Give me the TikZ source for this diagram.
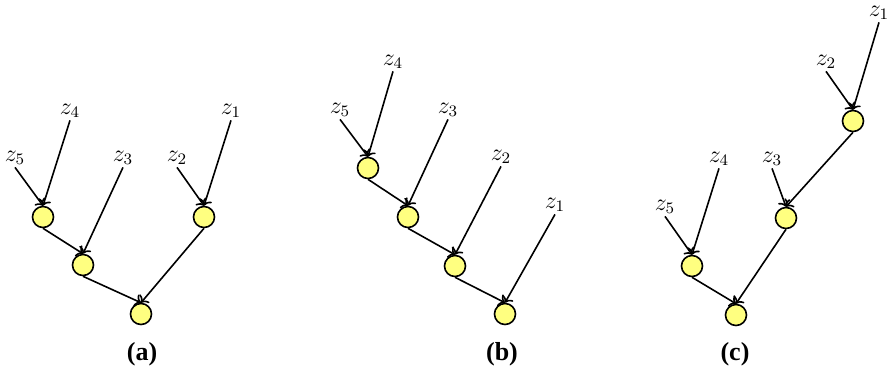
\documentclass[tikz,border=0pt]{standalone}
\usepackage{fontspec}
\usetikzlibrary{arrows.meta}
\newfontfamily\capfont{Liberation Serif}
\begin{document}
\begin{tikzpicture}[x=0.5pt,y=-0.5pt,
  vert/.style={circle,draw=black,line width=0.8pt,fill={rgb,255:red,255;green,255;blue,128},minimum size=10.5pt,inner sep=0pt},
  lab/.style={inner sep=1pt,font=\fontsize{11.5}{13}\selectfont},
  conn/.style={-{To[length=3pt,width=6.5pt]},line width=0.8pt},
  captext/.style={font=\capfont\bfseries\fontsize{13}{14}\selectfont}]
\useasboundingbox (0,0) rectangle (889,372);
% panel (a)
\node[vert] (a1) at (43,217) {};
\node[vert] (a2) at (83,265) {};
\node[vert] (a3) at (141,314) {};
\node[vert] (a4) at (204,217) {};
\node[lab] (a5l) at (15,158) {$z_5$};
\node[lab] (a4l) at (70,111) {$z_4$};
\node[lab] (a3l) at (123,158) {$z_3$};
\node[lab] (a2l) at (177,158) {$z_2$};
\node[lab] (a1l) at (231,111) {$z_1$};
\draw[conn] (a5l.south) -- (a1.north);
\draw[conn] (a4l.south) -- (a1.north);
\draw[conn] (a1.south) -- (a2.north);
\draw[conn] (a3l.south) -- (a2.north);
\draw[conn] (a2.south) -- (a3.north);
\draw[conn] (a2l.south) -- (a4.north);
\draw[conn] (a1l.south) -- (a4.north);
\draw[conn] (a4.south) -- (a3.north);
\node[captext] (capa) at (142,354) {(a)};
% panel (b)
\node[vert] (b1) at (368,168) {};
\node[vert] (b2) at (408,217) {};
\node[vert] (b3) at (455,266) {};
\node[vert] (b4) at (505,314) {};
\node[lab] (b5l) at (340,110) {$z_5$};
\node[lab] (b4l) at (393,62) {$z_4$};
\node[lab] (b3l) at (448,110) {$z_3$};
\node[lab] (b2l) at (501,157) {$z_2$};
\node[lab] (b1l) at (555,205) {$z_1$};
\draw[conn] (b5l.south) -- (b1.north);
\draw[conn] (b4l.south) -- (b1.north);
\draw[conn] (b1.south) -- (b2.north);
\draw[conn] (b3l.south) -- (b2.north);
\draw[conn] (b2.south) -- (b3.north);
\draw[conn] (b2l.south) -- (b3.north);
\draw[conn] (b3.south) -- (b4.north);
\draw[conn] (b1l.south) -- (b4.north);
\node[captext] (capb) at (502,354) {(b)};
% panel (c)
\node[vert] (c1) at (853,121) {};
\node[vert] (c2) at (786,218) {};
\node[vert] (c3) at (692,266) {};
\node[vert] (c4) at (736,315) {};
\node[lab] (c1l) at (879,13) {$z_1$};
\node[lab] (c2l) at (826,62) {$z_2$};
\node[lab] (c3l) at (772,159) {$z_3$};
\node[lab] (c4l) at (719,159) {$z_4$};
\node[lab] (c5l) at (665,207) {$z_5$};
\draw[conn] (c1l.south) -- (c1.north);
\draw[conn] (c2l.south) -- (c1.north);
\draw[conn] (c1.south) -- (c2.north);
\draw[conn] (c3l.south) -- (c2.north);
\draw[conn] (c2.south) -- (c4.north);
\draw[conn] (c5l.south) -- (c3.north);
\draw[conn] (c4l.south) -- (c3.north);
\draw[conn] (c3.south) -- (c4.north);
\node[captext] (capc) at (735,354) {(c)};
\end{tikzpicture}
\end{document}
